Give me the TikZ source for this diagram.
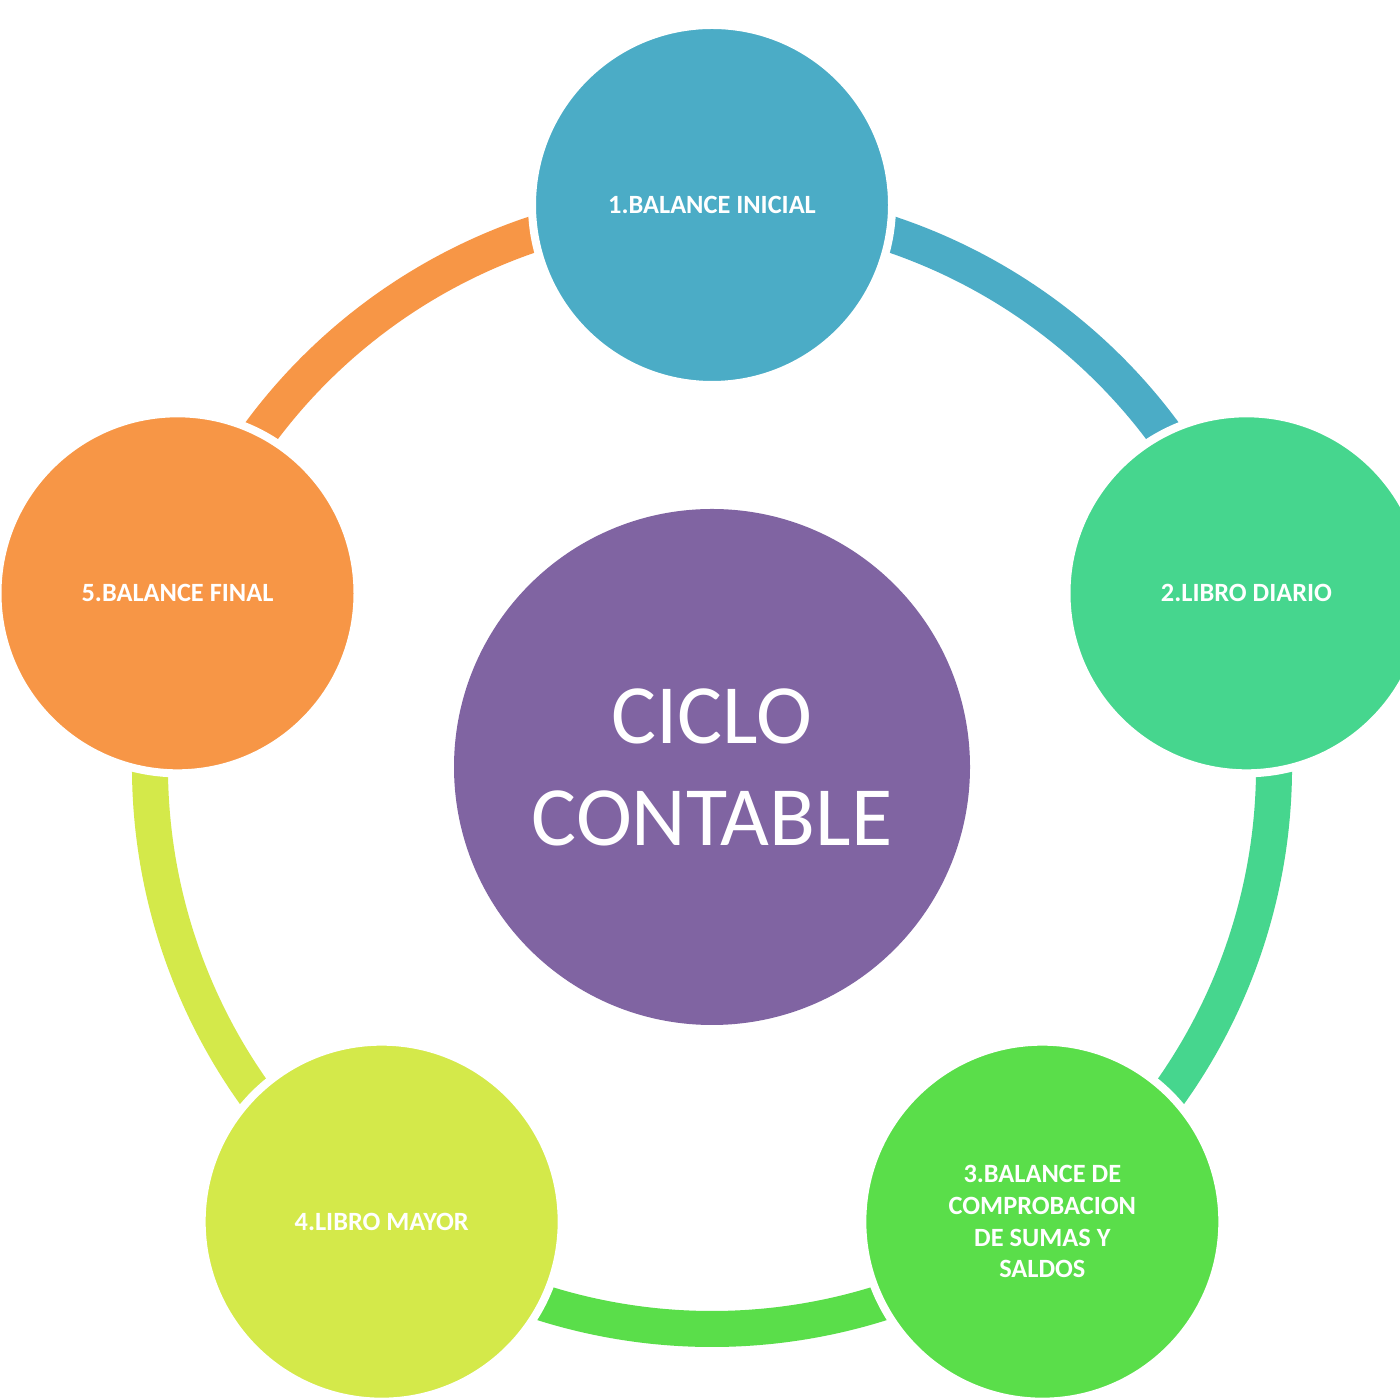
\documentclass[tikz,border=0pt]{standalone}
\usepackage{fontspec}
\setmainfont{Carlito}
\usetikzlibrary{calc}
\begin{document}
\begin{tikzpicture}[
  stage/.style={circle, minimum size=3.6cm, draw=white, line width=0.08cm, text=white, font=\fontsize{7.5}{9}\selectfont\bfseries, align=center, inner sep=0pt},
  ring/.style={line width=0.36cm}]
\definecolor{cblue}{HTML}{4BACC6}
\definecolor{cteal}{HTML}{46D68E}
\definecolor{cgreen}{HTML}{5ADE4A}
\definecolor{cyellow}{HTML}{D4E94A}
\definecolor{corange}{HTML}{F79646}
\definecolor{cpurple}{HTML}{8064A2}
\clip (0,0) rectangle (14,14);
\fill [white] (0,0) rectangle (14,14);
\coordinate (c) at (7.12,6.33);
% ring
\draw [ring, cblue] ([shift={(90:5.62)}]c) arc (90:18:5.62);
\draw [ring, cteal] ([shift={(18:5.62)}]c) arc (18:-54:5.62);
\draw [ring, cgreen] ([shift={(-54:5.62)}]c) arc (-54:-126:5.62);
\draw [ring, cyellow] ([shift={(-126:5.62)}]c) arc (-126:-198:5.62);
\draw [ring, corange] ([shift={(162:5.62)}]c) arc (162:90:5.62);
% stages
\node [stage, fill=cblue] (s1) at ($(c)+(90:5.62)$) {1.BALANCE INICIAL};
\node [stage, fill=cteal] (s2) at ($(c)+(18:5.62)$) {2.LIBRO DIARIO};
\node [stage, fill=cgreen] (s3) at ($(c)+(-54:5.62)$) {3.BALANCE DE\\COMPROBACION\\DE SUMAS Y\\SALDOS};
\node [stage, fill=cyellow] (s4) at ($(c)+(-126:5.62)$) {4.LIBRO MAYOR};
\node [stage, fill=corange] (s5) at ($(c)+(162:5.62)$) {5.BALANCE FINAL};
\node [circle, fill=cpurple, minimum size=5.16cm, text=white, align=center, font=\fontsize{24}{29}\selectfont] (ciclo) at (c) {CICLO\\CONTABLE};
\end{tikzpicture}
\end{document}
